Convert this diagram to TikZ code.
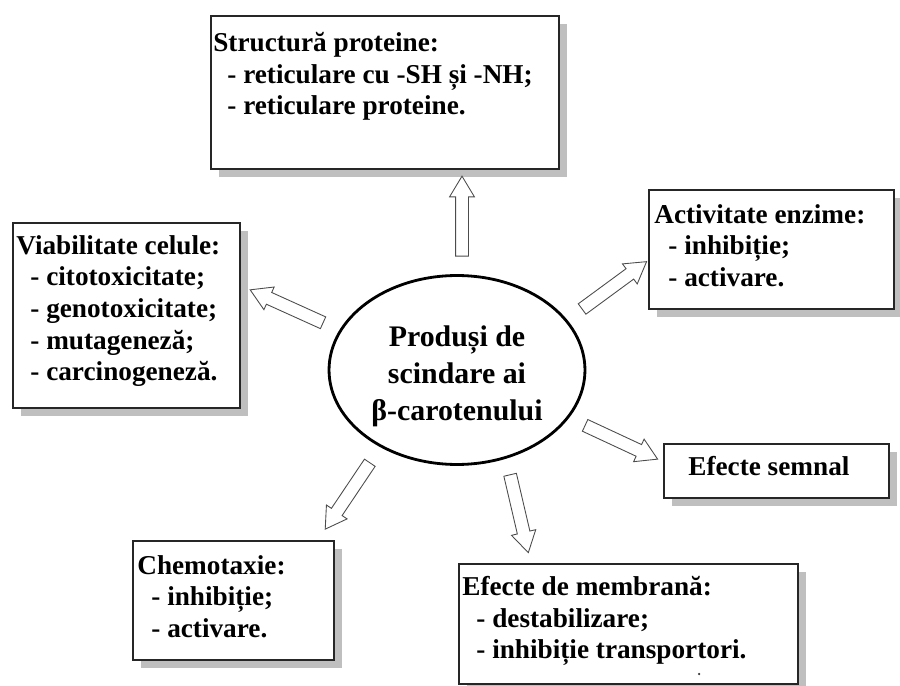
\documentclass[tikz,border=0pt]{standalone}
\usepackage{fontspec}
\setmainfont{Liberation Serif}
\usetikzlibrary{shapes, shadows, positioning}

\begin{document}
\begin{tikzpicture}[x=0.02cm, y=-0.02cm,
	box/.style={draw=black!85, line width=1.1pt, fill=white, inner sep=0pt, anchor=north west,
		drop shadow={shadow xshift=0.16cm, shadow yshift=-0.16cm, fill=black!25, opacity=1}},
	txt/.style={anchor=north west, inner sep=0pt, align=left, font=\fontsize{15.5}{18}\selectfont\bfseries},
	blockarr/.style={single arrow, draw=black!70, fill=white, line width=0.5pt, inner xsep=0pt, inner ysep=0.12cm,
		minimum height=1.6cm, minimum width=0.48cm, single arrow head extend=0.12cm,
		single arrow tip angle=62, sloped, allow upside down, midway}]
	\useasboundingbox (0,0) rectangle (900,686);
	\node[box, minimum width=6.96cm, minimum height=3.06cm] (prot) at (210,15) {};
	\node[box, minimum width=4.54cm, minimum height=3.7cm] (viab) at (12,222) {};
	\node[box, minimum width=4.9cm, minimum height=2.38cm] (enz) at (648,189) {};
	\node[box, minimum width=4.5cm, minimum height=1.08cm] (semn) at (663,443) {};
	\node[box, minimum width=4.02cm, minimum height=2.38cm] (chem) at (132,540) {};
	\node[box, minimum width=6.78cm, minimum height=2.4cm] (membr) at (458,563) {};
	\node[txt] (protT) at ([shift={(3,17)}]prot.north west) {Structură proteine:\\
		\hspace*{8pt}- reticulare cu -SH și -NH;\\
		\hspace*{8pt}- reticulare proteine.};
	\node[txt] (viabT) at ([shift={(4,13)}]viab.north west) {Viabilitate celule:\\
		\hspace*{8pt}- citotoxicitate;\\
		\hspace*{8pt}- genotoxicitate;\\
		\hspace*{8pt}- mutageneză;\\
		\hspace*{8pt}- carcinogeneză.};
	\node[txt] (enzT) at ([shift={(6,15)}]enz.north west) {Activitate enzime:\\
		\hspace*{8pt}- inhibiție;\\
		\hspace*{8pt}- activare.};
	\node[txt, anchor=base west] (semnT) at ([shift={(25,32)}]semn.north west) {Efecte semnal};
	\node[txt] (chemT) at ([shift={(5,15)}]chem.north west) {Chemotaxie:\\
		\hspace*{8pt}- inhibiție;\\
		\hspace*{8pt}- activare.};
	\node[txt] (membrT) at ([shift={(4,13)}]membr.north west) {Efecte de membrană:\\
		\hspace*{8pt}- destabilizare;\\
		\hspace*{8pt}- inhibiție transportori.};
	\node[circle, fill=black!80, inner sep=0pt, minimum size=0.05cm] (dot)
		at ([shift={(241,111)}]membr.north west) {};
	\node[draw, ellipse, line width=1.6pt, minimum width=5.12cm, minimum height=3.78cm] (prod) at (457,370) {};
	\node[align=center, inner sep=0pt, font=\fontsize{17}{21}\selectfont\bfseries] (prodT)
		at ([shift={(0,6)}]prod.center) {Produși de\\scindare ai\\β-carotenului};
	\coordinate (a1) at (462,261); \coordinate (b1) at (462,182);
	\coordinate (a2) at (328,325); \coordinate (b2) at (255,292);
	\coordinate (a3) at (578,312); \coordinate (b3) at (642,265);
	\coordinate (a4) at (580,423); \coordinate (b4) at (653,457);
	\coordinate (a5) at (373,458); \coordinate (b5) at (328,525);
	\coordinate (a6) at (509,470); \coordinate (b6) at (527,547);
	\foreach \i in {1,...,6}
		\path (a\i) -- (b\i) node[blockarr] {};
\end{tikzpicture}
\end{document}
